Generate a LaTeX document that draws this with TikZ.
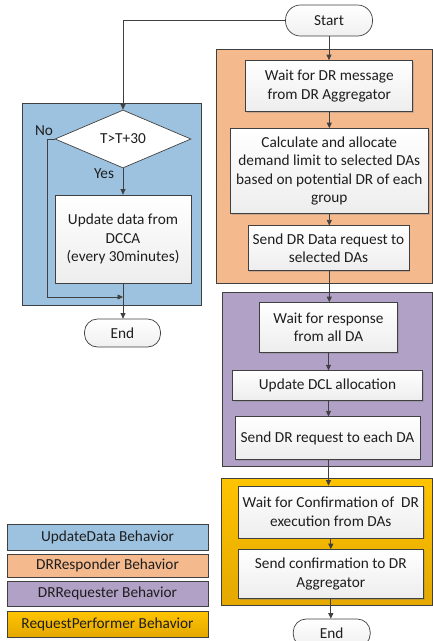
\documentclass[tikz,border=0pt]{standalone}
\usepackage{fontspec}
\setmainfont{Carlito}
\usetikzlibrary{shapes.geometric,arrows.meta,shadows}
\definecolor{bluep}{RGB}{157,194,223}
\definecolor{orangep}{RGB}{244,186,142}
\definecolor{purplep}{RGB}{178,161,199}
\definecolor{yellowtop}{RGB}{255,196,0}
\definecolor{yellowbot}{RGB}{228,168,0}
\definecolor{edgec}{RGB}{64,64,64}
\definecolor{txt}{RGB}{30,30,30}
\begin{document}
\begin{tikzpicture}[x=1pt,y=-1pt,
  every node/.style={text=txt},
  panel/.style={draw=edgec, line width=0.7pt},
  box/.style={draw=edgec, line width=0.7pt, top color=white, bottom color=gray!14,
    align=center, inner sep=0pt, font=\fontsize{15.3}{18.5}\selectfont,
    drop shadow={shadow xshift=1.2pt, shadow yshift=-1.2pt, opacity=0.35, fill=gray}},
  pill/.style={draw=edgec, line width=0.7pt, rounded corners=13pt, top color=white, bottom color=gray!12,
    align=center, inner sep=0pt, font=\fontsize{15.3}{18.5}\selectfont},
  legbox/.style={draw=edgec, line width=0.7pt, align=center, inner sep=0pt,
    minimum width=201pt, font=\fontsize{15.3}{18.5}\selectfont},
  lbl/.style={font=\fontsize{15.3}{18.5}\selectfont, inner sep=0pt},
  arr/.style={draw=edgec, line width=0.7pt, -{Triangle[length=5.5pt,width=5pt]}}
]
\useasboundingbox (0,0) rectangle (433,641);
% panels
\path[panel, fill=bluep] (22,103) rectangle (201,305);
\path[panel, fill=orangep] (216,49) rectangle (432,283);
\path[panel, fill=purplep] (222,292) rectangle (432,466);
\path[panel, top color=yellowtop, bottom color=yellowbot] (221,478) rectangle (432,605);

% nodes
\node[pill, minimum width=87pt, minimum height=31pt, rounded corners=15pt] (start) at (329,20.5) {Start};
\node[draw=edgec, line width=0.7pt, fill=white, shape=diamond, aspect=2.3, inner sep=1pt,
  minimum width=136pt, minimum height=58pt, font=\fontsize{15.3}{18.5}\selectfont] (d) at (123,139) {T>T+30};
\node[box, minimum width=136pt, minimum height=88pt] (upd) at (123,239) {Update data from\\DCCA\\(every 30minutes)};
\node[pill, minimum width=76pt, minimum height=28pt] (end1) at (122.5,333) {End};

\node[box, minimum width=167pt, minimum height=51pt] (o1) at (329.3,86) {Wait for DR message\\from DR Aggregator};
\node[box, minimum width=198pt, minimum height=85pt] (o2) at (329.3,171) {Calculate and allocate\\demand limit to selected DAs\\based on potential DR of each\\group};
\node[box, minimum width=161pt, minimum height=45pt] (o3) at (328.5,248.3) {Send DR Data request to\\selected DAs};

\node[box, minimum width=138pt, minimum height=50pt] (p1) at (328.5,327.5) {Wait for response\\from all DA};
\node[box, minimum width=190pt, minimum height=30pt] (p2) at (327.5,385.7) {Update DCL allocation};
\node[box, minimum width=185pt, minimum height=43pt] (p3) at (327.5,438.3) {Send DR request to each DA};

\node[box, minimum width=185pt, minimum height=52pt] (y1) at (330.8,512) {Wait for Confirmation of~ DR\\execution from DAs};
\node[box, minimum width=185pt, minimum height=49pt] (y2) at (330.8,574) {Send confirmation to DR\\Aggregator};
\node[pill, minimum width=77pt, minimum height=28pt] (end2) at (331.7,633) {End};

% labels
\node[lbl] (no) at (44,131) {No};
\node[lbl] (yes) at (104,174) {Yes};

% legend
\node[legbox, minimum height=26pt, fill=bluep] (l1) at (107.5,537) {UpdateData Behavior};
\node[legbox, minimum height=23.5pt, fill=orangep] (l2) at (107.5,565.7) {DRResponder Behavior};
\node[legbox, minimum height=25pt, fill=purplep] (l3) at (107.5,593.5) {DRRequester Behavior};
\node[legbox, minimum height=26pt, top color=yellowtop, bottom color=yellowbot] (l4) at (107.5,624) {RequestPerformer Behavior};

% connectors
\coordinate (nk) at (47,139);
\coordinate (j) at (123,297);
\draw[arr] (start.south) -- (start.south |- o1.north);
\draw[arr] (start.west) -| (d.north);
\draw[arr] (d.south) -- (upd.north);
\draw[draw=edgec, line width=0.7pt] (d.west) -- (nk);
\draw[arr] (nk) |- (j);
\draw[arr] (upd.south) -- (end1.north -| upd.south);
\draw[arr] (o1.south) -- (o1.south |- o2.north);
\draw[arr] (o1.south |- o2.south) -- (o1.south |- o3.north);
\draw[arr] (o1.south |- o3.south) -- (o1.south |- p1.north);
\draw[arr] (p1.south) -- (p1.south |- p2.north);
\draw[arr] (p1.south |- p2.south) -- (p1.south |- p3.north);
\draw[arr] (p1.south |- p3.south) -- (p1.south |- y1.north);
\draw[arr] (y1.south) -- (y1.south |- y2.north);
\draw[arr] (y2.south) -- (y2.south |- end2.north);
\end{tikzpicture}
\end{document}
